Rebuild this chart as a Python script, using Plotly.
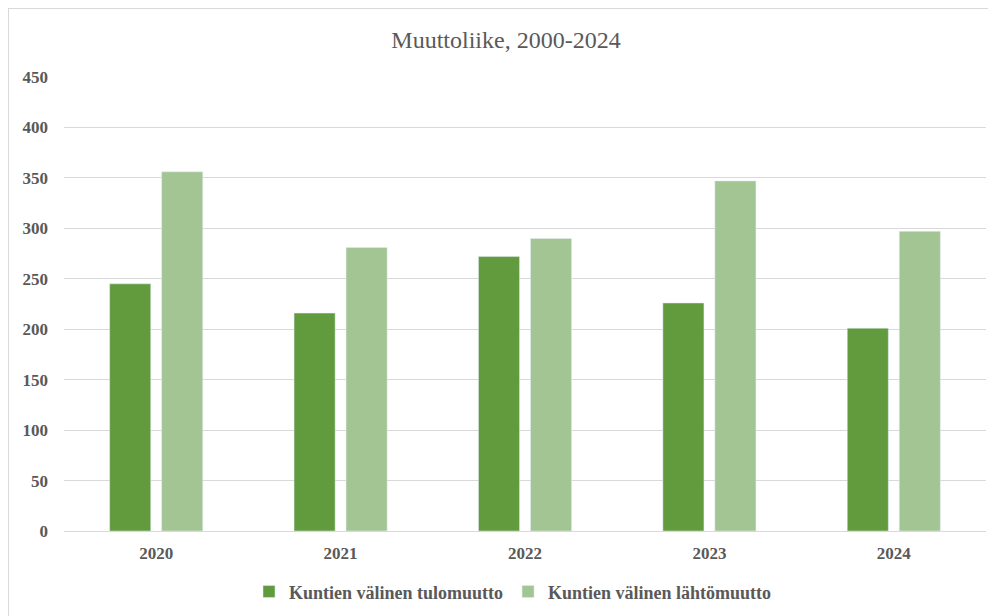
import plotly.graph_objects as go

years = ["2020", "2021", "2022", "2023", "2024"]
tulomuutto = [245, 216, 272, 226, 201]
lahtomuutto = [356, 281, 290, 347, 297]

series_names = ["Kuntien välinen tulomuutto", "Kuntien välinen lähtömuutto"]
y_ticks = [0, 50, 100, 150, 200, 250, 300, 350, 400, 450]

dark_green = "#629a3e"
light_green = "#a2c593"
text_grey = "#595959"

fig = go.Figure()
fig.add_trace(go.Bar(x=years, y=tulomuutto, name=series_names[0], marker_color=dark_green))
fig.add_trace(go.Bar(x=years, y=lahtomuutto, name=series_names[1], marker_color=light_green))

# the page adds an 8px body margin, so margins are 8px smaller than measured
fig.update_layout(
    width=996,
    height=616,
    plot_bgcolor="white",
    paper_bgcolor="white",
    barmode="group",
    bargap=0.436,
    bargroupgap=0.21,
    margin=dict(l=56, r=18, t=69, b=93),
    font=dict(family="Liberation Serif", size=17, color=text_grey),
    title=dict(
        text="Muuttoliike, 2000-2024",
        x=0.5,
        xanchor="center",
        y=0.948,
        yanchor="middle",
        font=dict(family="Liberation Serif", size=24, color=text_grey),
    ),
    legend=dict(
        orientation="h",
        x=0.487,
        xanchor="center",
        y=-0.134,
        yanchor="middle",
        font=dict(family="Liberation Serif", size=18, color=text_grey, weight="bold"),
        itemwidth=30,
        traceorder="normal",
    ),
)
fig.update_yaxes(
    range=[0, 450],
    tickvals=y_ticks,
    gridcolor="#d9d9d9",
    gridwidth=1,
    zeroline=True,
    zerolinecolor="#d9d9d9",
    zerolinewidth=1,
    ticklabelstandoff=15,
    tickfont=dict(size=17, color=text_grey, weight="bold"),
)
fig.update_xaxes(
    showline=False,
    tickfont=dict(size=17, color=text_grey, weight="bold"),
    ticklabelstandoff=10,
)

# outer chart frame (left and top edges visible in the reference)
fig.add_shape(
    type="line", xref="paper", yref="paper",
    x0=-56 / 922, x1=-56 / 922, y0=-93 / 454, y1=523 / 454,
    line=dict(color="#d9d9d9", width=2),
)
fig.add_shape(
    type="line", xref="paper", yref="paper",
    x0=-56 / 922, x1=940 / 922, y0=523 / 454, y1=523 / 454,
    line=dict(color="#d9d9d9", width=2),
)

fig.write_html("out.html")
